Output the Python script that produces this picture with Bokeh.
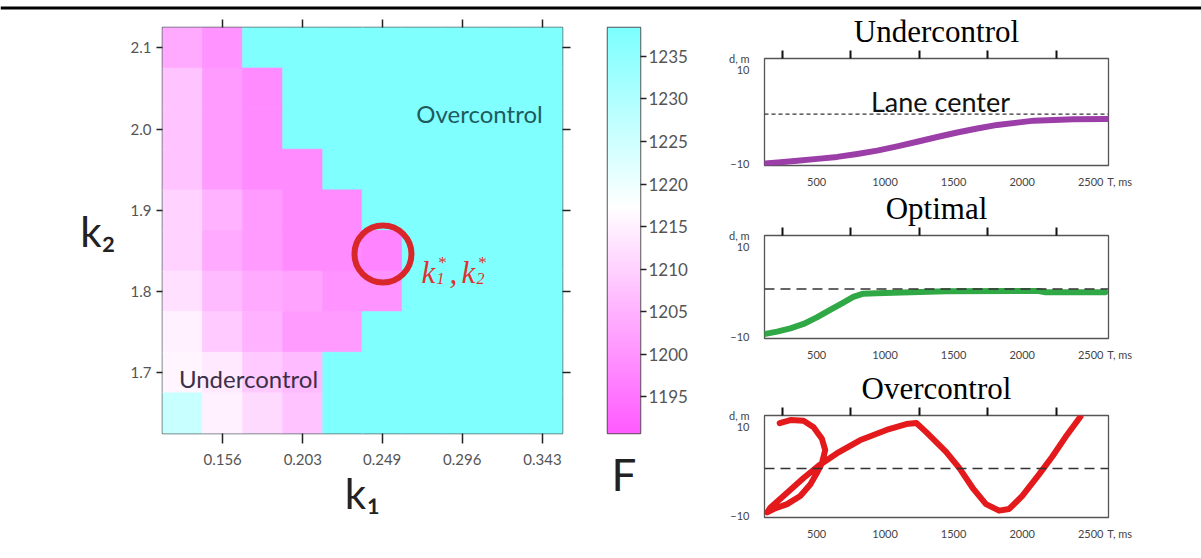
import numpy as np
from bokeh.plotting import figure
from bokeh.models import (ColumnDataSource, LinearColorMapper, LinearAxis, FixedTicker,
                          Label, Span, Title, PrintfTickFormatter, CustomLabelingPolicy, AllLabels)
from bokeh.layouts import row, column
from bokeh.embed import file_html
from bokeh.resources import INLINE
from bokeh.transform import transform

# ---------------- data ----------------
k1_values = [0.1325, 0.156, 0.1795, 0.203, 0.2265, 0.2495, 0.273, 0.2965, 0.32, 0.3435]
k2_values = [2.10, 2.05, 2.00, 1.95, 1.90, 1.85, 1.80, 1.75, 1.70, 1.65]
C = 1237.8  # overcontrol plateau
F_rows = [
    [1203.7, 1200.0, C, C, C, C, C, C, C, C],
    [1207.5, 1201.2, 1198.7, C, C, C, C, C, C, C],
    [1207.5, 1201.2, 1198.7, C, C, C, C, C, C, C],
    [1207.5, 1201.2, 1198.7, 1198.7, C, C, C, C, C, C],
    [1210.0, 1205.0, 1201.2, 1198.7, 1198.7, C, C, C, C, C],
    [1210.0, 1203.7, 1201.2, 1198.7, 1198.7, 1197.5, C, C, C, C],
    [1212.5, 1206.2, 1203.7, 1202.5, 1200.0, 1200.0, C, C, C, C],
    [1215.0, 1208.7, 1205.0, 1201.2, 1201.2, C, C, C, C, C],
    [1215.7, 1213.7, 1208.7, 1206.2, C, C, C, C, C, C],
    [1226.2, 1215.0, 1211.2, 1207.5, C, C, C, C, C, C],
]
k1_tick_labels = ["0.156", "0.203", "0.249", "0.296", "0.343"]
k2_ticks = [1.7, 1.8, 1.9, 2.0, 2.1]
F_ticks = [1195, 1200, 1205, 1210, 1215, 1220, 1225, 1230, 1235]
F_low, F_mid, F_high = 1190.7, 1217.3, 1238.4
k_opt = (0.25, 1.846)

T_ticks = [500, 1000, 1500, 2000, 2500]
T_minor_top = [250, 750, 1250, 1750, 2250]
d_ticks = [-10, 10]
lane_d = 0.5

T_under = [127, 237, 359, 505, 650, 796, 942, 1088, 1234, 1380, 1526, 1672, 1818, 1964, 2085, 2231, 2377, 2621]
d_under = [-10.08, -9.8, -9.5, -9.08, -8.66, -8.02, -7.32, -6.41, -5.41, -4.41, -3.44, -2.59, -1.81, -1.32, -0.9, -0.75, -0.6, -0.53]

T_opt = [127, 212, 309, 405, 502, 599, 695, 768, 840, 937, 1058, 1445, 2122, 2171, 2606]
d_opt = [-9.47, -8.96, -8.23, -7.27, -5.81, -4.12, -2.51, -1.25, -0.53, -0.44, -0.31, 0.0, 0.07, -0.22, -0.22]

T_over = [231, 309, 405, 478, 539, 563, 539, 502, 454, 381, 285, 187, 140,
          164, 285, 405, 514, 647, 816, 1010, 1155, 1228, 1300, 1445, 1542, 1638,
          1736, 1832, 1905, 2001, 2122, 2219, 2316, 2425]
d_over = [10.7, 11.37, 11.23, 9.76, 7.18, 4.63, 1.68, -0.53, -3.08, -5.66, -7.49, -8.59, -9.34,
          -8.23, -4.93, -1.63, 1.1, 3.88, 6.83, 9.16, 10.48, 10.7, 8.66, 4.25, 0.57, -3.83,
          -7.49, -8.96, -8.59, -5.66, -0.88, 3.15, 7.56, 12.11]

SANS = "Lato"
SERIF = "Liberation Serif"

def no_labels():
    return dict(major_label_policy=CustomLabelingPolicy(code="return []"),
                major_label_text_font_size="1px")

# ---------------- colour map ----------------
def mix(c1, c2, t):
    return "#%02x%02x%02x" % tuple(int(round(a + (b - a) * t)) for a, b in zip(c1, c2))

pink, white, cyan = (255, 90, 255), (255, 255, 255), (124, 255, 255)
palette = []
N = 256
for i in range(N):
    v = F_low + (i + 0.5) / N * (F_high - F_low)
    if v < F_mid:
        palette.append(mix(pink, white, (v - F_low) / (F_mid - F_low)))
    else:
        palette.append(mix(white, cyan, (v - F_mid) / (F_high - F_mid)))
mapper = LinearColorMapper(palette=palette, low=F_low, high=F_high)

# ---------------- top rule ----------------
rule = figure(width=1201, height=10, x_range=(0, 1), y_range=(0, 10), min_border=0,
              x_axis_location=None, y_axis_location=None, output_backend="svg",
              toolbar_location=None)
rule.outline_line_color = None
rule.grid.visible = False
rule.add_layout(Span(location=4.5, dimension="width", line_color="#000000", line_width=3))

# ---------------- heat map ----------------
cell_w = k1_values[1] - k1_values[0]
cell_h = k2_values[0] - k2_values[1]
K1_LO, K1_HI = k1_values[0] - cell_w / 2, k1_values[-1] + cell_w / 2
K2_LO, K2_HI = k2_values[-1] - cell_h / 2, k2_values[0] + cell_h / 2

xs, ys, fs = [], [], []
for j, k2 in enumerate(k2_values):
    for i, k1 in enumerate(k1_values):
        xs.append(k1); ys.append(k2); fs.append(F_rows[j][i])
src = ColumnDataSource(dict(k1=xs, k2=ys, F=fs))

HM_L, HM_T, HM_W, HM_H, HM_PAGE_TOP = 162, 27, 400, 406, 10
hm = figure(width=590, height=548, x_range=(K1_LO, K1_HI), y_range=(K2_LO, K2_HI),
            min_border_left=HM_L, min_border_right=590 - HM_L - HM_W,
            min_border_top=HM_T - HM_PAGE_TOP, min_border_bottom=548 - (HM_T - HM_PAGE_TOP) - HM_H,
            output_backend="svg", toolbar_location=None)
hm.grid.visible = False
hm.outline_line_color = "#4d5c5c"
hm.outline_line_width = 1.5

hm.rect(x="k1", y="k2", width=cell_w, height=cell_h, source=src,
        fill_color=transform("F", mapper), line_color=transform("F", mapper), line_width=0.8)
hm.scatter(x=[k_opt[0]], y=[k_opt[1]], marker="circle", size=57, fill_color=None,
           line_color="#d9262b", line_width=6)

k1_ticks = k1_values[1::2]
xa = hm.xaxis[0]
xa.ticker = FixedTicker(ticks=k1_ticks)
xa.major_label_overrides = {t: l for t, l in zip(k1_ticks, k1_tick_labels)}
ya = hm.yaxis[0]
ya.ticker = FixedTicker(ticks=k2_ticks)
ya.formatter = PrintfTickFormatter(format="%.1f")
for ax, out in ((xa, 10), (ya, 6)):
    ax.axis_line_color = None
    ax.major_tick_out = out
    ax.major_tick_in = 0
    ax.minor_tick_line_color = None
    ax.major_tick_line_color = "#222222"
    ax.major_tick_line_width = 1.5
    ax.major_label_text_font = SANS
    ax.major_label_text_color = "#555555"
    ax.axis_label_text_font = SANS
    ax.axis_label_text_font_style = "normal"
    ax.axis_label_text_font_size = "42px"
    ax.axis_label_text_color = "#222222"
xa.major_label_text_font_size = "15px"
xa.major_label_standoff = 10
xa.axis_label = "k\u2081"
xa.axis_label_standoff = 0
ya.major_label_text_font_size = "15px"
ya.major_label_standoff = 5
ya.axis_label = "k\u2082"
ya.axis_label_standoff = 12
if hasattr(ya, "axis_label_orientation"):
    ya.axis_label_orientation = "horizontal"

top_ax = LinearAxis(ticker=FixedTicker(ticks=k1_ticks), axis_line_color=None, major_tick_out=8,
                    major_tick_in=0, minor_tick_line_color=None, major_tick_line_color="#222222",
                    major_tick_line_width=1.5, major_label_standoff=0, **no_labels())
right_ax = LinearAxis(ticker=FixedTicker(ticks=k2_ticks), axis_line_color=None, major_tick_out=8,
                      major_tick_in=0, minor_tick_line_color=None, major_tick_line_color="#222222",
                      major_tick_line_width=1.5, major_label_standoff=0, **no_labels())
hm.add_layout(top_ax, "above")
hm.add_layout(right_ax, "right")

def hx(px):
    return K1_LO + (px - HM_L) / HM_W * (K1_HI - K1_LO)

def hy(py):
    return K2_HI - (py - HM_T) / HM_H * (K2_HI - K2_LO)

def hlabel(text, px, py, size, color="#222222", font=SANS, style="normal", align="left", baseline="alphabetic"):
    hm.add_layout(Label(x=hx(px), y=hy(py), text=text, text_font=font, text_font_size=size,
                        text_color=color, text_font_style=style, text_align=align,
                        text_baseline=baseline))

# region names
hlabel("Overcontrol", 479, 113, "24px", color="#1f5a5e", align="center", baseline="middle")
hlabel("Undercontrol", 248, 378, "24px", color="#3b2f48", align="center", baseline="middle")
# optimum label k1*, k2*
red = "#e0302c"
hlabel("k", 421, 272, "31px", color=red, font=SERIF, style="italic")
hlabel("*", 437, 262, "17px", color=red, font=SERIF, style="italic")
hlabel("1", 436, 278, "16px", color=red, font=SERIF, style="italic")
hlabel(",", 449, 272, "31px", color=red, font=SERIF, style="italic")
hlabel("k", 461, 272, "31px", color=red, font=SERIF, style="italic")
hlabel("*", 477, 262, "17px", color=red, font=SERIF, style="italic")
hlabel("2", 476, 278, "16px", color=red, font=SERIF, style="italic")

# ---------------- colour bar ----------------
CB_L, CB_T, CB_W, CB_H = 17, 17, 33, 408
cb = figure(width=130, height=548, x_range=(0, 1), y_range=(F_low, F_high),
            min_border_left=CB_L, min_border_right=130 - CB_L - CB_W,
            min_border_top=CB_T, min_border_bottom=548 - CB_T - CB_H,
            x_axis_location=None, y_axis_location="right",
            output_backend="svg", toolbar_location=None)
cb.grid.visible = False
cb.outline_line_color = "#555555"
cb.outline_line_width = 1.5
grad = np.linspace(F_low, F_high, 400).reshape(-1, 1)
cb.image(image=[grad], x=0, y=F_low, dw=1, dh=F_high - F_low, color_mapper=mapper)
cax = cb.yaxis[0]
cax.ticker = FixedTicker(ticks=F_ticks)
cax.axis_line_color = None
cax.major_tick_out = 6
cax.major_tick_in = 0
cax.minor_tick_line_color = None
cax.major_tick_line_color = "#222222"
cax.major_tick_line_width = 1.5
cax.major_label_standoff = 2
cax.major_label_text_font = SANS
cax.major_label_text_font_size = "17px"
cax.major_label_text_color = "#555555"
f_axis = LinearAxis(axis_line_color=None, major_tick_line_color=None, minor_tick_line_color=None,
                    major_tick_out=0, major_tick_in=0, major_label_standoff=0,
                    axis_label="F", axis_label_text_font=SANS, axis_label_text_font_size="44px",
                    axis_label_text_font_style="normal", axis_label_text_color="#222222",
                    axis_label_standoff=6, **no_labels())
cb.add_layout(f_axis, "below")

# ---------------- time-series panels ----------------
T_LO, T_HI = 120, 2630
D_LO, D_HI = -10.5, 12.4
NBSP = "\u00a0"

def panel(title, page_top, height, frame_top, frame_w, frame_h, T, d, color, dash,
          lane_text=False):
    L = 764
    p = figure(width=481, height=height, x_range=(T_LO, T_HI), y_range=(D_LO, D_HI),
               min_border_left=44, min_border_right=481 - 44 - frame_w,
               min_border_top=frame_top - page_top,
               min_border_bottom=height - (frame_top - page_top) - frame_h,
               title_location=None,
               output_backend="svg", toolbar_location=None)
    p.grid.visible = False
    p.outline_line_color = "#555555"
    p.outline_line_width = 1.3

    def px(x):
        return T_LO + (x - L) / frame_w * (T_HI - T_LO)

    def py(y):
        return D_HI - (y - frame_top) / frame_h * (D_HI - D_LO)

    p.add_layout(Span(location=lane_d, dimension="width", line_color="#333333",
                      line_width=1.3, line_dash=dash))
    p.line(T, d, line_color=color, line_width=6, line_cap="round", line_join="round")

    # bottom axis: value ticks plus the unit caption "T, ms" at the right end
    bx = p.xaxis[0]
    bx.ticker = FixedTicker(ticks=T_ticks + [T_HI])
    bx.major_label_overrides = {T_HI: NBSP * 8 + "T, ms"}
    bx.major_label_policy = AllLabels()
    # left axis: value ticks plus the unit caption "d, m" at the top end
    by = p.yaxis[0]
    by.ticker = FixedTicker(ticks=d_ticks + [D_HI])
    by.major_label_overrides = {D_HI: "d, m"}
    by.major_label_policy = AllLabels()
    for ax in (bx, by):
        ax.axis_line_color = None
        ax.major_tick_line_color = None
        ax.minor_tick_line_color = None
        ax.major_tick_out = 0
        ax.major_tick_in = 0
        ax.major_label_text_font = SANS
        ax.major_label_text_font_size = "11px"
        ax.major_label_text_color = "#444444"
    bx.major_label_standoff = 9
    by.major_label_standoff = 15

    # top tick marks (nearest the frame), then the panel title above them
    top = LinearAxis(ticker=FixedTicker(ticks=T_minor_top), axis_line_color=None,
                     major_tick_out=8, major_tick_in=0, minor_tick_line_color=None,
                     major_tick_line_color="#111111", major_tick_line_width=2,
                     major_label_standoff=0, **no_labels())
    p.add_layout(top, "above")
    p.add_layout(Title(text=title, align="center", text_font=SERIF, text_font_size="31px",
                       text_font_style="normal", text_color="#000000", standoff=-4, offset=-4),
                 "above")

    if lane_text:
        p.add_layout(Label(x=px(940), y=py(101.7), text="Lane center", text_font=SANS,
                           text_font_size="27px", text_color="#111111", text_align="center",
                           text_baseline="middle"))
    return p

p1 = panel("Undercontrol", 10, 180, 58, 344, 108, T_under, d_under, "#9b3ea8", "4 3",
           lane_text=True)
p2 = panel("Optimal", 190, 180, 234, 346, 104, T_opt, d_opt, "#2fa845", "10 6")
p3 = panel("Overcontrol", 370, 188, 413, 346, 104, T_over, d_over, "#e3191c", "10 6")

layout = column(rule, row(hm, cb, column(p1, p2, p3, spacing=0), spacing=0), spacing=0)

open("out.html", "w").write(file_html(layout, INLINE))
